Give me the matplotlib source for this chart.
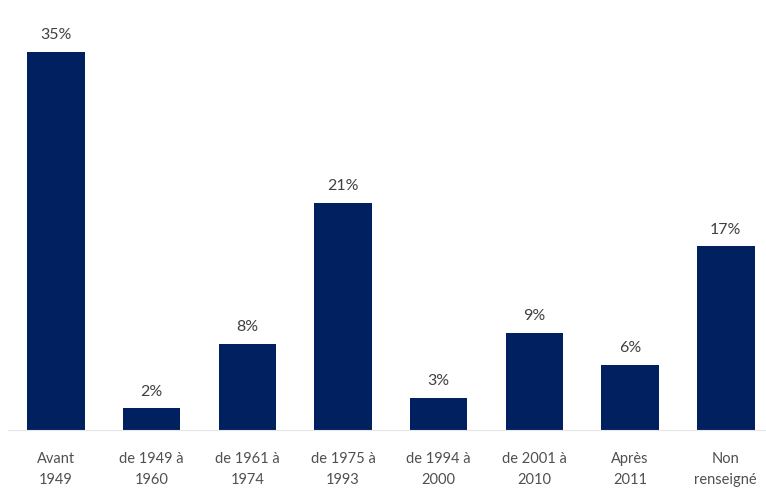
import matplotlib
matplotlib.use("Agg")
import matplotlib.pyplot as plt

categories = ["Avant\n1949", "de 1949 à\n1960", "de 1961 à\n1974", "de 1975 à\n1993",
              "de 1994 à\n2000", "de 2001 à\n2010", "Après\n2011", "Non\nrenseigné"]
values = [35, 2, 8, 21, 3, 9, 6, 17]
value_labels = ["35%", "2%", "8%", "21%", "3%", "9%", "6%", "17%"]

plt.rcParams['font.family'] = ['Lato', 'DejaVu Sans']

fig = plt.figure(figsize=(7.66, 4.92), dpi=100)
ax = fig.add_axes([8/766, 62/492, 758/766, 430/492])
x = list(range(len(categories)))
bars = ax.bar(x, values, width=0.6, color="#002060")
for xi, v, lab in zip(x, values, value_labels):
    ax.text(xi, v + 0.9, lab, ha="center", va="bottom", fontsize=11.5, color="#404040")

ax.set_xlim(-0.5, 7.42)
ax.set_ylim(0, 39.8)
ax.set_xticks(x)
ax.set_xticklabels(categories, fontsize=10.5, color="#505050", linespacing=1.65)
ax.tick_params(axis="x", length=0, pad=16)
ax.set_yticks([])
for s in ["top", "right", "left"]:
    ax.spines[s].set_visible(False)
ax.spines["bottom"].set_color("#e6e6e6")
ax.spines["bottom"].set_linewidth(0.8)

fig.savefig("out.png", dpi=100)
